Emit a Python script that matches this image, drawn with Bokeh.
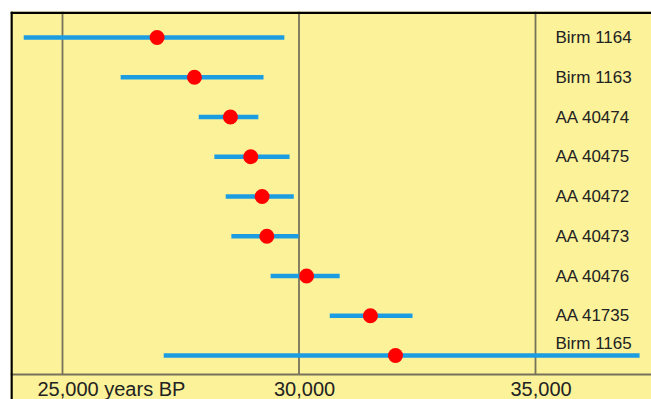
from bokeh.plotting import figure
from bokeh.models import ColumnDataSource, Range1d, Span
from bokeh.embed import file_html
from bokeh.resources import INLINE
from bokeh.core.properties import value

# ---- data ----
labels = ["Birm 1164", "Birm 1163", "AA 40474", "AA 40475", "AA 40472",
          "AA 40473", "AA 40476", "AA 41735", "Birm 1165"]
dates = [27000, 27790, 28550, 28980, 29220, 29320, 30160, 31510, 32040]
low = [24180, 26230, 27880, 28210, 28450, 28570, 29400, 30650, 27140]
high = [29690, 29250, 29140, 29800, 29890, 29990, 30860, 32400, 37200]
tick_values = [25000, 30000, 35000]
tick_labels = ["25,000 years BP", "30,000", "35,000"]

# ---- layout (pixels) ----
W, H = 651, 399
px_per_year = 236.5 / 5000.0
left_border = 10
top_border = 11
x_start = 25000 - (62 - left_border) / px_per_year
x_end = x_start + (W - left_border) / px_per_year
row_px = 39.75
row0_px = 37 - top_border
y_top = -row0_px / row_px
y_bottom = (H - top_border - row0_px) / row_px
n = len(labels)
rows = list(range(n))
axis_y = (n - 1) + 19 / row_px
label_y = (n - 1) + 33 / row_px

YELLOW = "#fbf29a"
GRID = "#76735a"
BLUE = "#1c9de2"
TEXT = "#222222"
FONT = "Liberation Sans"

p = figure(width=W, height=H, output_backend="svg", toolbar_location=None,
           x_range=Range1d(x_start, x_end), y_range=Range1d(y_bottom, y_top),
           x_axis_location=None, y_axis_location=None,
           min_border_left=left_border, min_border_right=0,
           min_border_top=top_border, min_border_bottom=0)
p.grid.visible = False
p.outline_line_color = None
p.background_fill_color = YELLOW
p.border_fill_color = "white"

# vertical grid lines down to the axis line
p.segment(x0=tick_values, x1=tick_values, y0=[y_top] * 3, y1=[axis_y] * 3,
          line_color=GRID, line_width=1.8)
p.add_layout(Span(location=axis_y, dimension="width", line_color=GRID, line_width=1.8))

# borders (left and top)
p.add_layout(Span(location=x_start + 1.0 / px_per_year, dimension="height",
                  line_color="black", line_width=2.5))
p.add_layout(Span(location=y_top + 1.2 / row_px, dimension="width",
                  line_color="black", line_width=2.5))

src = ColumnDataSource(dict(label=labels, date=dates, low=low, high=high, row=rows,
                            lx=[tick_values[-1]] * n,
                            yoff=[0] * (n - 1) + [-12]))

p.segment(x0="low", x1="high", y0="row", y1="row", source=src,
          line_color=BLUE, line_width=4.5)
p.scatter(x="date", y="row", source=src, marker="circle", size=15,
          fill_color="#ff0000", line_color=None)

p.text(x="lx", y="row", text="label", source=src, x_offset=20, y_offset="yoff",
       text_align="left", text_baseline="middle", text_color=TEXT,
       text_font=value(FONT), text_font_size="17px")

tsrc = ColumnDataSource(dict(x=tick_values, y=[label_y] * 3, t=tick_labels))
p.text(x="x", y="y", text="t", source=tsrc, x_offset=-25,
       text_align="left", text_baseline="middle", text_color=TEXT,
       text_font=value(FONT), text_font_size="20px")

open("out.html", "w").write(file_html(p, INLINE))
